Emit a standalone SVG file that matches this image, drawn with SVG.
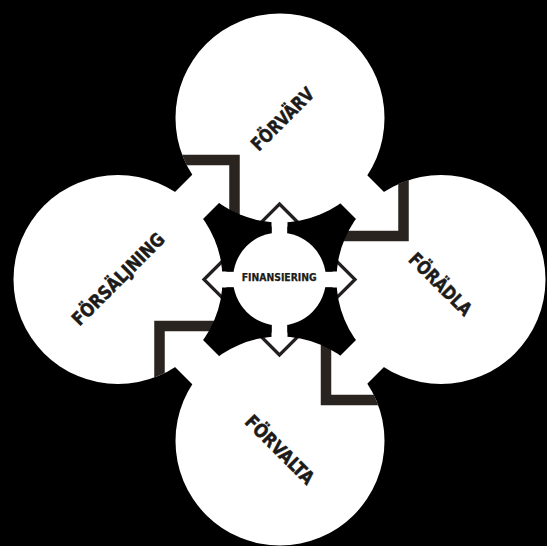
<svg xmlns="http://www.w3.org/2000/svg" width="547" height="546" viewBox="0 0 547 546">
<style>
.petal{fill:#fff}
.bar{fill:none;stroke:#29241f;stroke-width:10.5;stroke-linejoin:miter;stroke-linecap:butt}
.arrow{fill:#fff;stroke:#231f20;stroke-width:3.2;stroke-linejoin:miter}
.lbl{font-family:"DejaVu Sans Condensed","DejaVu Sans",sans-serif;font-stretch:condensed;font-weight:bold;font-size:18.5px;fill:#1d1b19;stroke:#1d1b19;stroke-width:0.5;text-anchor:middle}
.hubtxt{font-family:"DejaVu Sans Condensed","DejaVu Sans",sans-serif;font-stretch:condensed;font-weight:bold;font-size:10px;fill:#1d1b19;stroke:#1d1b19;stroke-width:0.25;text-anchor:middle}
</style>
<defs>
<path id="arr" d="M0,-75.5 L24,-51.5 L9.4,-51.5 L9.4,-30 L-9.4,-30 L-9.4,-51.5 L-24,-51.5 Z"/>
<clipPath id="whiteArea">
<polygon points="279.5,87.5 471.5,279.5 279.5,471.5 87.5,279.5"/>
<circle cx="280" cy="118" r="104.5"/>
<circle cx="441" cy="279.5" r="104.5"/>
<circle cx="280" cy="441" r="104.5"/>
<circle cx="118" cy="279.5" r="104.5"/>
</clipPath>
<mask id="bladeMask" maskUnits="userSpaceOnUse" x="0" y="0" width="547" height="546">
<rect width="547" height="546" fill="#fff"/>
<circle cx="280" cy="118" r="104.5" fill="#000"/>
<circle cx="441" cy="279.5" r="104.5" fill="#000"/>
<circle cx="280" cy="441" r="104.5" fill="#000"/>
<circle cx="118" cy="279.5" r="104.5" fill="#000"/>
<rect x="271.5" y="0" width="16" height="546" fill="#000"/>
<rect x="0" y="271.5" width="547" height="16" fill="#000"/>
</mask>
</defs>
<rect width="547" height="546" fill="#000"/>
<polygon points="279.5,87.5 471.5,279.5 279.5,471.5 87.5,279.5" fill="#fff"/>
<g id="forvarv">
<circle class="petal" cx="280" cy="118" r="104.5"/>
<text class="lbl" transform="translate(282.4,118.9) rotate(-45)" x="0" y="6.7" textLength="80" lengthAdjust="spacingAndGlyphs">FÖRVÄRV</text>
</g>
<g id="foradla">
<circle class="petal" cx="441" cy="279.5" r="104.5"/>
<text class="lbl" transform="translate(440.6,284) rotate(45)" x="0" y="6.7" textLength="80" lengthAdjust="spacingAndGlyphs">FÖRÄDLA</text>
</g>
<g id="forvalta">
<circle class="petal" cx="280" cy="441" r="104.5"/>
<text class="lbl" transform="translate(280,449.5) rotate(45)" x="0" y="6.7" textLength="89" lengthAdjust="spacingAndGlyphs">FÖRVALTA</text>
</g>
<g id="forsaljning">
<circle class="petal" cx="118" cy="279.5" r="104.5"/>
<text class="lbl" transform="translate(118,279) rotate(-45)" x="0" y="6.7" textLength="122" lengthAdjust="spacingAndGlyphs">FÖRSÄLJNING</text>
</g>
<g id="connectors">
<g clip-path="url(#whiteArea)">
<path class="bar" d="M170,160 H234.5 V228"/>
<path class="bar" d="M403.5,168 V236 H335"/>
<path class="bar" d="M159.5,392 V326 H225"/>
<path class="bar" d="M326,335 V400 H390"/>
</g>
<use href="#arr" class="arrow" transform="translate(279.5,279.5)"/>
<use href="#arr" class="arrow" transform="translate(279.5,279.5) rotate(90)"/>
<use href="#arr" class="arrow" transform="translate(279.5,279.5) rotate(180)"/>
<use href="#arr" class="arrow" transform="translate(279.5,279.5) rotate(270)"/>
</g>
<polygon points="279.5,142.5 416.5,279.5 279.5,416.5 142.5,279.5" fill="#000" mask="url(#bladeMask)"/>
<g id="finansiering">
<circle cx="279.5" cy="279" r="46.5" fill="#fff"/>
<text class="hubtxt" x="279.2" y="280.9" textLength="75" lengthAdjust="spacingAndGlyphs">FINANSIERING</text>
</g>
</svg>
